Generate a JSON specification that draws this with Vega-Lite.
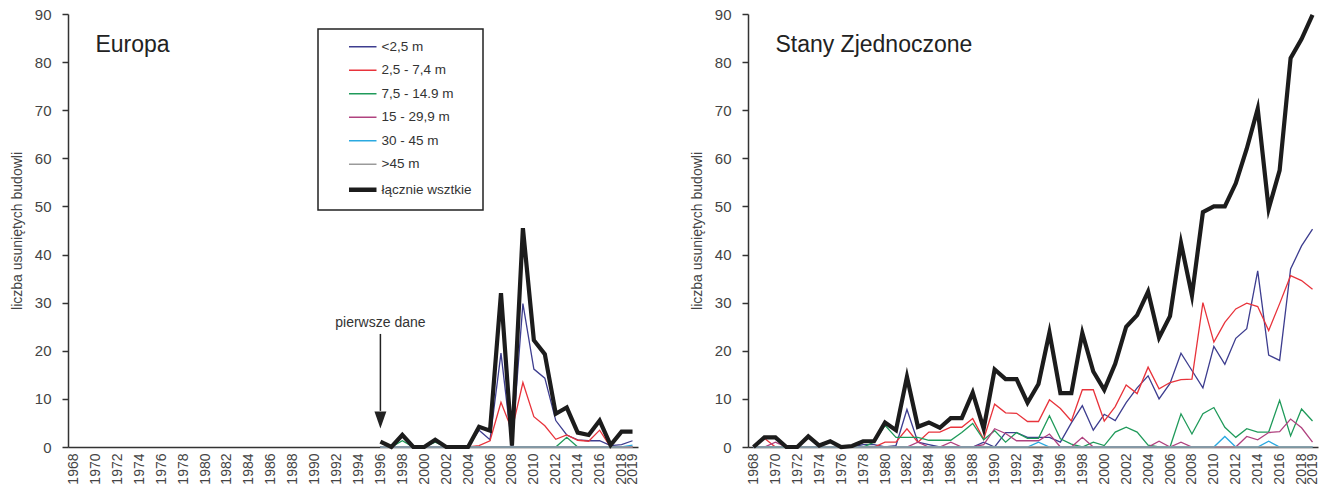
{
  "$schema": "https://vega.github.io/schema/vega-lite/v6.json",
  "padding": {"left": 10, "top": -11, "right": 5, "bottom": 0},
  "background": "white",
  "spacing": 32,
  "config": {
    "font": "Liberation Sans",
    "view": {"stroke": null},
    "axis": {"domainColor": "#333", "domainWidth": 1.5, "tickColor": "#333", "tickWidth": 1.5, "labelColor": "#444", "titleColor": "#444", "titleFontWeight": "normal", "grid": false, "labelFont": "Liberation Sans", "titleFont": "Liberation Sans"},
    "axisX": {"labelOverlap": false, "labelAngle": -90, "ticks": false, "labelFontSize": 14, "labelPadding": 6, "title": null},
    "axisY": {"labelFontSize": 15, "tickSize": 6, "labelPadding": 11, "titlePadding": 10, "titleFontSize": 14},
    "legend": {"labelFont": "Liberation Sans"}
  },
  "datasets": {
    "eu": [
      {"year": 1996, "k1": 0, "k2": 0, "k3": 0, "k4": 0, "k5": 0, "k6": 0, "tot": 1.1},
      {"year": 1997, "k1": 0, "k2": 0, "k3": 0, "k4": 0, "k5": 0, "k6": 0, "tot": 0},
      {"year": 1998, "k1": 0, "k2": 0, "k3": 1.3, "k4": 0, "k5": 0, "k6": 0, "tot": 2.5},
      {"year": 1999, "k1": 0, "k2": 0, "k3": 0, "k4": 0, "k5": 0, "k6": 0, "tot": 0},
      {"year": 2000, "k1": 0, "k2": 0, "k3": 0, "k4": 0, "k5": 0, "k6": 0, "tot": 0},
      {"year": 2001, "k1": 0, "k2": 0, "k3": 1, "k4": 0, "k5": 0, "k6": 0, "tot": 1.5},
      {"year": 2002, "k1": 0, "k2": 0, "k3": 0, "k4": 0, "k5": 0, "k6": 0, "tot": 0},
      {"year": 2003, "k1": 0, "k2": 0, "k3": 0, "k4": 0, "k5": 0, "k6": 0, "tot": 0},
      {"year": 2004, "k1": 0, "k2": 0, "k3": 0, "k4": 0, "k5": 0, "k6": 0, "tot": 0},
      {"year": 2005, "k1": 3.5, "k2": 0.3, "k3": 0, "k4": 0, "k5": 0, "k6": 0, "tot": 4.2},
      {"year": 2006, "k1": 1.5, "k2": 1.3, "k3": 0, "k4": 0, "k5": 0, "k6": 0, "tot": 3.4},
      {"year": 2007, "k1": 19.5, "k2": 9.3, "k3": 0, "k4": 0, "k5": 0, "k6": 0, "tot": 32},
      {"year": 2008, "k1": 0, "k2": 3.5, "k3": 0, "k4": 0, "k5": 0, "k6": 0, "tot": 0.3},
      {"year": 2009, "k1": 29.8, "k2": 13.4, "k3": 0, "k4": 0, "k5": 0, "k6": 0, "tot": 45.5},
      {"year": 2010, "k1": 16.2, "k2": 6.3, "k3": 0, "k4": 0, "k5": 0, "k6": 0, "tot": 22.2},
      {"year": 2011, "k1": 14.3, "k2": 4.4, "k3": 0, "k4": 0, "k5": 0, "k6": 0, "tot": 19.3},
      {"year": 2012, "k1": 5.5, "k2": 1.6, "k3": 0, "k4": 0, "k5": 0, "k6": 0, "tot": 6.9},
      {"year": 2013, "k1": 2.5, "k2": 2.5, "k3": 2, "k4": 0, "k5": 0, "k6": 0, "tot": 8.2},
      {"year": 2014, "k1": 1.5, "k2": 1.4, "k3": 0, "k4": 0, "k5": 0, "k6": 0, "tot": 3},
      {"year": 2015, "k1": 1.3, "k2": 1.2, "k3": 0, "k4": 0, "k5": 0, "k6": 0, "tot": 2.5},
      {"year": 2016, "k1": 1.3, "k2": 3.5, "k3": 0, "k4": 0, "k5": 0, "k6": 0, "tot": 5.5},
      {"year": 2017, "k1": 0.3, "k2": 0, "k3": 0, "k4": 0, "k5": 0, "k6": 0, "tot": 0.4},
      {"year": 2018, "k1": 0.5, "k2": 0, "k3": 0, "k4": 0, "k5": 0, "k6": 0, "tot": 3.2},
      {"year": 2019, "k1": 1.3, "k2": 0, "k3": 0, "k4": 0, "k5": 0.4, "k6": 0, "tot": 3.2}
    ],
    "us": [
      {"year": 1968, "k1": 0, "k2": 0, "k3": 0, "k4": 0, "k5": 0, "k6": 0, "tot": 0},
      {"year": 1969, "k1": 0, "k2": 1.8, "k3": 0, "k4": 0, "k5": 0, "k6": 0, "tot": 2},
      {"year": 1970, "k1": 0, "k2": 0, "k3": 0, "k4": 1, "k5": 0, "k6": 0, "tot": 2},
      {"year": 1971, "k1": 0, "k2": 0, "k3": 0, "k4": 0, "k5": 0, "k6": 0, "tot": 0},
      {"year": 1972, "k1": 0, "k2": 0, "k3": 0, "k4": 0, "k5": 0, "k6": 0, "tot": 0},
      {"year": 1973, "k1": 0, "k2": 0, "k3": 0, "k4": 0, "k5": 0, "k6": 0, "tot": 2.2},
      {"year": 1974, "k1": 0, "k2": 0, "k3": 0, "k4": 0, "k5": 0, "k6": 0, "tot": 0.3},
      {"year": 1975, "k1": 0, "k2": 0, "k3": 0, "k4": 0, "k5": 0, "k6": 0, "tot": 1.2},
      {"year": 1976, "k1": 0, "k2": 0, "k3": 0, "k4": 0, "k5": 0, "k6": 0, "tot": 0},
      {"year": 1977, "k1": 0, "k2": 0, "k3": 0, "k4": 0, "k5": 0, "k6": 0, "tot": 0.2},
      {"year": 1978, "k1": 0.5, "k2": 0, "k3": 0, "k4": 0, "k5": 0, "k6": 0, "tot": 1.2},
      {"year": 1979, "k1": 0.5, "k2": 0, "k3": 1, "k4": 0, "k5": 0, "k6": 0, "tot": 1.2},
      {"year": 1980, "k1": 0, "k2": 1, "k3": 4.5, "k4": 0, "k5": 0, "k6": 0, "tot": 5.1},
      {"year": 1981, "k1": 0.3, "k2": 1, "k3": 2, "k4": 0, "k5": 0, "k6": 0, "tot": 3.5},
      {"year": 1982, "k1": 7.8, "k2": 3.8, "k3": 2, "k4": 0, "k5": 0, "k6": 0, "tot": 14.6},
      {"year": 1983, "k1": 1, "k2": 1, "k3": 2, "k4": 1, "k5": 0, "k6": 0, "tot": 4.2},
      {"year": 1984, "k1": 0.5, "k2": 3.1, "k3": 1.4, "k4": 0, "k5": 0, "k6": 0, "tot": 5.1},
      {"year": 1985, "k1": 0, "k2": 3.1, "k3": 1.4, "k4": 0, "k5": 0, "k6": 0, "tot": 4},
      {"year": 1986, "k1": 0, "k2": 4.1, "k3": 1.4, "k4": 1, "k5": 0, "k6": 0, "tot": 6},
      {"year": 1987, "k1": 0, "k2": 4.1, "k3": 3, "k4": 0, "k5": 0, "k6": 0, "tot": 6},
      {"year": 1988, "k1": 0, "k2": 5.9, "k3": 4.9, "k4": 0, "k5": 0, "k6": 0, "tot": 11.3},
      {"year": 1989, "k1": 1, "k2": 1.6, "k3": 1.5, "k4": 0.5, "k5": 0, "k6": 0, "tot": 3.8},
      {"year": 1990, "k1": 0, "k2": 8.9, "k3": 3.4, "k4": 3.8, "k5": 0, "k6": 0, "tot": 16.1},
      {"year": 1991, "k1": 3, "k2": 7.1, "k3": 1, "k4": 2.8, "k5": 0, "k6": 0, "tot": 14.1},
      {"year": 1992, "k1": 3, "k2": 7, "k3": 3, "k4": 1.3, "k5": 0, "k6": 0, "tot": 14.1},
      {"year": 1993, "k1": 2, "k2": 5.3, "k3": 1.8, "k4": 1.3, "k5": 0, "k6": 0, "tot": 9.2},
      {"year": 1994, "k1": 2, "k2": 5.3, "k3": 1.8, "k4": 1.3, "k5": 1, "k6": 0, "tot": 13.1},
      {"year": 1995, "k1": 2, "k2": 9.8, "k3": 6.5, "k4": 2.7, "k5": 0, "k6": 0, "tot": 23.8},
      {"year": 1996, "k1": 1, "k2": 8, "k3": 1.7, "k4": 0, "k5": 0, "k6": 0, "tot": 11.2},
      {"year": 1997, "k1": 5, "k2": 5.4, "k3": 0.6, "k4": 0, "k5": 0, "k6": 0, "tot": 11.2},
      {"year": 1998, "k1": 8.6, "k2": 11.9, "k3": 0, "k4": 2, "k5": 0, "k6": 0, "tot": 23.7},
      {"year": 1999, "k1": 3.5, "k2": 11.9, "k3": 1, "k4": 0, "k5": 0, "k6": 0, "tot": 15.7},
      {"year": 2000, "k1": 6.8, "k2": 5.4, "k3": 0.3, "k4": 0, "k5": 0, "k6": 0, "tot": 11.9},
      {"year": 2001, "k1": 5.5, "k2": 8.4, "k3": 3.1, "k4": 0, "k5": 0, "k6": 0, "tot": 17.3},
      {"year": 2002, "k1": 9.2, "k2": 12.9, "k3": 4.1, "k4": 0, "k5": 0, "k6": 0, "tot": 25},
      {"year": 2003, "k1": 12.3, "k2": 11.1, "k3": 3.1, "k4": 0, "k5": 0, "k6": 0, "tot": 27.4},
      {"year": 2004, "k1": 14.8, "k2": 16.6, "k3": 0.4, "k4": 0, "k5": 0, "k6": 0, "tot": 32.3},
      {"year": 2005, "k1": 10, "k2": 12.1, "k3": 0, "k4": 1.2, "k5": 0, "k6": 0, "tot": 22.7},
      {"year": 2006, "k1": 13.2, "k2": 13.4, "k3": 0, "k4": 0, "k5": 0, "k6": 0, "tot": 27.2},
      {"year": 2007, "k1": 19.5, "k2": 14, "k3": 6.9, "k4": 1, "k5": 0, "k6": 0, "tot": 42.4},
      {"year": 2008, "k1": 15.9, "k2": 14.1, "k3": 2.7, "k4": 0, "k5": 0, "k6": 0, "tot": 31.5},
      {"year": 2009, "k1": 12.3, "k2": 30, "k3": 6.9, "k4": 0, "k5": 0, "k6": 0, "tot": 48.8},
      {"year": 2010, "k1": 20.9, "k2": 21.8, "k3": 8.2, "k4": 0, "k5": 0, "k6": 0, "tot": 50},
      {"year": 2011, "k1": 17.2, "k2": 25.9, "k3": 4.1, "k4": 0, "k5": 2.2, "k6": 0, "tot": 50},
      {"year": 2012, "k1": 22.6, "k2": 28.7, "k3": 2, "k4": 0, "k5": 0, "k6": 0, "tot": 54.8},
      {"year": 2013, "k1": 24.6, "k2": 29.9, "k3": 3.8, "k4": 2.2, "k5": 0, "k6": 0, "tot": 62},
      {"year": 2014, "k1": 36.6, "k2": 29.2, "k3": 3.1, "k4": 1.5, "k5": 0, "k6": 0, "tot": 70.3},
      {"year": 2015, "k1": 19.1, "k2": 24.2, "k3": 3.1, "k4": 3, "k5": 1.2, "k6": 0, "tot": 49.5},
      {"year": 2016, "k1": 18, "k2": 29.8, "k3": 9.7, "k4": 3.2, "k5": 0, "k6": 0, "tot": 57.5},
      {"year": 2017, "k1": 37, "k2": 35.6, "k3": 2.3, "k4": 5.8, "k5": 0, "k6": 0, "tot": 80.8},
      {"year": 2018, "k1": 41.8, "k2": 34.6, "k3": 7.9, "k4": 4, "k5": 0, "k6": 0, "tot": 84.8},
      {"year": 2019, "k1": 45.3, "k2": 32.8, "k3": 5.4, "k4": 1, "k5": 0, "k6": 0, "tot": 89.8}
    ]
  },
  "resolve": {"scale": {"color": "independent"}, "legend": {"color": "independent"}},
  "hconcat": [
    {
      "width": 570,
      "height": 433,
      "layer": [
        {
          "data": {"name": "eu"},
          "transform": [{"fold": ["k1", "k2", "k3", "k4", "k5", "k6", "tot"], "as": ["series", "value"]}, {"filter": "datum.series !== 'tot'"}],
          "mark": {"type": "line", "strokeWidth": 1.3},
          "encoding": {
            "x": {"field": "year", "type": "ordinal",
              "scale": {"type": "point", "padding": 0.5, "domain": [1968, 1969, 1970, 1971, 1972, 1973, 1974, 1975, 1976, 1977, 1978, 1979, 1980, 1981, 1982, 1983, 1984, 1985, 1986, 1987, 1988, 1989, 1990, 1991, 1992, 1993, 1994, 1995, 1996, 1997, 1998, 1999, 2000, 2001, 2002, 2003, 2004, 2005, 2006, 2007, 2008, 2009, 2010, 2011, 2012, 2013, 2014, 2015, 2016, 2017, 2018, 2019]},
              "axis": {"values": [1968, 1970, 1972, 1974, 1976, 1978, 1980, 1982, 1984, 1986, 1988, 1990, 1992, 1994, 1996, 1998, 2000, 2002, 2004, 2006, 2008, 2010, 2012, 2014, 2016, 2018, 2019], "title": null, "labelOverlap": false}},
            "y": {"field": "value", "type": "quantitative", "scale": {"domain": [0, 90], "nice": false},
              "axis": {"values": [0, 10, 20, 30, 40, 50, 60, 70, 80, 90], "title": "liczba usuniętych budowli"}},
            "color": {"field": "series", "type": "nominal",
              "scale": {"domain": ["k1", "k2", "k3", "k4", "k5", "k6", "tot"], "range": ["#3d3d8f", "#e8333b", "#1f9a5a", "#b0427f", "#2aa9e0", "#9a9a9a", "#1c1c1c"]},
              "legend": {"orient": "none", "legendX": 250, "legendY": 15, "title": null, "symbolType": "M-2.5,0L2.5,0", "symbolSize": 121, "symbolStrokeWidth": 1.5, "labelFontSize": 13.5, "labelColor": "#333", "rowPadding": 8.5, "padding": 11, "labelOffset": 12, "symbolOffset": 27, "strokeColor": "#222", "fillColor": "white",
                "labelExpr": "datum.value == 'k1' ? '<2,5 m' : datum.value == 'k2' ? '2,5 - 7,4 m' : datum.value == 'k3' ? '7,5 - 14.9 m' : datum.value == 'k4' ? '15 - 29,9 m' : datum.value == 'k5' ? '30 - 45 m' : datum.value == 'k6' ? '>45 m' : 'łącznie wsztkie'",
                "encode": {"symbols": {"update": {"strokeWidth": {"signal": "datum.value === 'tot' ? 4.5 : 1.5"}}}, "legend": {"update": {"strokeWidth": {"value": 1.5}}}}}}
          }
        },
        {
          "data": {"name": "eu"},
          "transform": [{"fold": ["k1", "k2", "k3", "k4", "k5", "k6", "tot"], "as": ["series", "value"]}, {"filter": "datum.series === 'tot'"}],
          "mark": {"type": "line", "strokeWidth": 4.2, "strokeJoin": "miter", "strokeMiterLimit": 12},
          "encoding": {
            "x": {"field": "year", "type": "ordinal"},
            "y": {"field": "value", "type": "quantitative"},
            "color": {"field": "series", "type": "nominal"}
          }
        },
        {
          "data": {"values": [{"t": "Europa"}]},
          "mark": {"type": "text", "align": "left", "baseline": "alphabetic", "fontSize": 23, "color": "#222"},
          "encoding": {"x": {"datum": 1970, "type": "ordinal"}, "y": {"datum": 82}, "text": {"field": "t"}}
        },
        {
          "data": {"values": [{"t": "pierwsze dane"}]},
          "mark": {"type": "text", "align": "center", "baseline": "alphabetic", "fontSize": 14, "color": "#333"},
          "encoding": {"x": {"datum": 1996, "type": "ordinal"}, "y": {"datum": 25}, "text": {"field": "t"}}
        },
        {
          "data": {"values": [{"t": "arrow"}]},
          "mark": {"type": "rule", "strokeWidth": 1.5, "color": "#222"},
          "encoding": {"x": {"datum": 1996, "type": "ordinal"}, "y": {"datum": 23.5}, "y2": {"datum": 7.5}}
        },
        {
          "data": {"values": [{"t": "arrow"}]},
          "mark": {"type": "point", "shape": "M-0.7,-1L0.7,-1L0,1Z", "size": 289, "filled": true, "opacity": 1, "color": "#222"},
          "encoding": {"x": {"datum": 1996, "type": "ordinal"}, "y": {"datum": 5.6}}
        }
      ]
    },
    {
      "width": 570,
      "height": 433,
      "layer": [
        {
          "data": {"name": "us"},
          "transform": [{"fold": ["k1", "k2", "k3", "k4", "k5", "k6", "tot"], "as": ["series", "value"]}, {"filter": "datum.series !== 'tot'"}],
          "mark": {"type": "line", "strokeWidth": 1.3},
          "encoding": {
            "x": {"field": "year", "type": "ordinal",
              "scale": {"type": "point", "padding": 0.5, "domain": [1968, 1969, 1970, 1971, 1972, 1973, 1974, 1975, 1976, 1977, 1978, 1979, 1980, 1981, 1982, 1983, 1984, 1985, 1986, 1987, 1988, 1989, 1990, 1991, 1992, 1993, 1994, 1995, 1996, 1997, 1998, 1999, 2000, 2001, 2002, 2003, 2004, 2005, 2006, 2007, 2008, 2009, 2010, 2011, 2012, 2013, 2014, 2015, 2016, 2017, 2018, 2019]},
              "axis": {"values": [1968, 1970, 1972, 1974, 1976, 1978, 1980, 1982, 1984, 1986, 1988, 1990, 1992, 1994, 1996, 1998, 2000, 2002, 2004, 2006, 2008, 2010, 2012, 2014, 2016, 2018, 2019], "title": null, "labelOverlap": false}},
            "y": {"field": "value", "type": "quantitative", "scale": {"domain": [0, 90], "nice": false},
              "axis": {"values": [0, 10, 20, 30, 40, 50, 60, 70, 80, 90], "title": "liczba usuniętych budowli"}},
            "color": {"field": "series", "type": "nominal",
              "scale": {"domain": ["k1", "k2", "k3", "k4", "k5", "k6", "tot"], "range": ["#3d3d8f", "#e8333b", "#1f9a5a", "#b0427f", "#2aa9e0", "#9a9a9a", "#1c1c1c"]},
              "legend": null}
          }
        },
        {
          "data": {"name": "us"},
          "transform": [{"fold": ["k1", "k2", "k3", "k4", "k5", "k6", "tot"], "as": ["series", "value"]}, {"filter": "datum.series === 'tot'"}],
          "mark": {"type": "line", "strokeWidth": 4.2, "strokeJoin": "miter", "strokeMiterLimit": 12},
          "encoding": {
            "x": {"field": "year", "type": "ordinal"},
            "y": {"field": "value", "type": "quantitative"},
            "color": {"field": "series", "type": "nominal", "legend": null}
          }
        },
        {
          "data": {"values": [{"t": "Stany Zjednoczone"}]},
          "mark": {"type": "text", "align": "left", "baseline": "alphabetic", "fontSize": 23, "color": "#222"},
          "encoding": {"x": {"datum": 1970, "type": "ordinal"}, "y": {"datum": 82}, "text": {"field": "t"}}
        }
      ]
    }
  ]
}
